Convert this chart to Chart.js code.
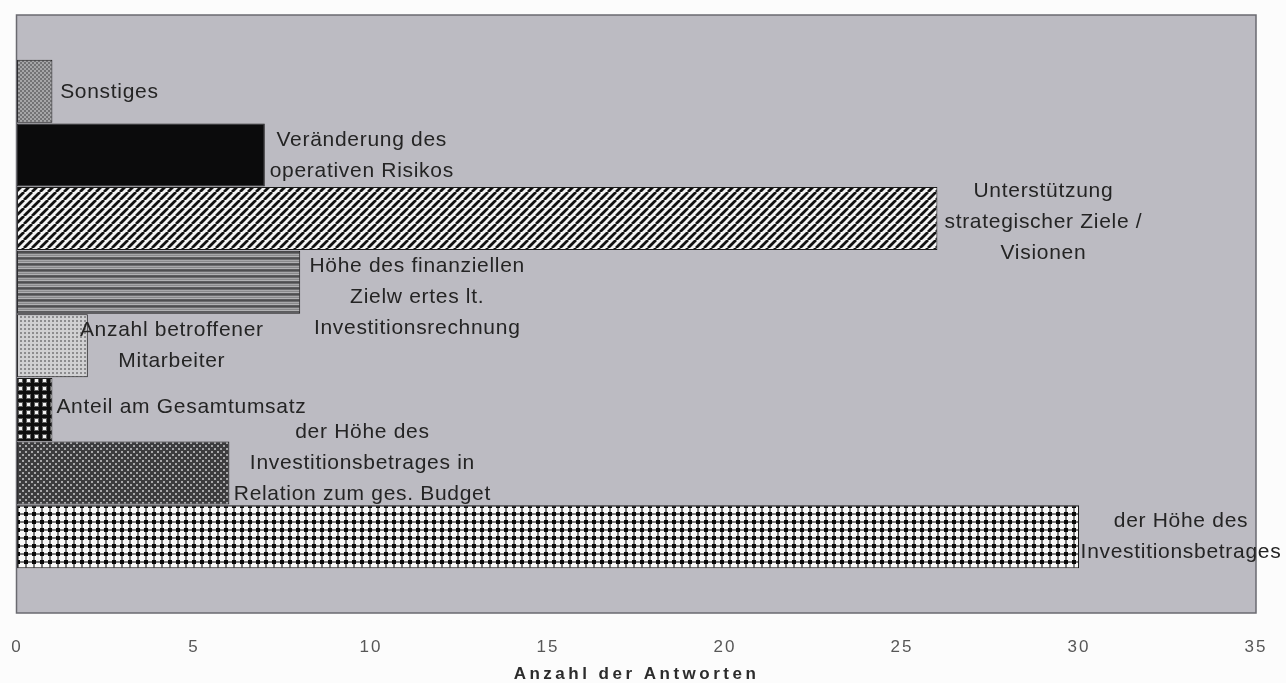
<!DOCTYPE html>
<html>
<head>
<meta charset="utf-8">
<title>Anzahl der Antworten</title>
<script src="https://cdn.jsdelivr.net/npm/chart.js@4.4.1/dist/chart.umd.min.js"></script>
<style>
  html, body { margin: 0; padding: 0; background: #fcfcfc; }
  canvas { display: block; }
</style>
</head>
<body>
<canvas id="chart" width="1286" height="683"></canvas>
<script>
// Criteria, listed top to bottom; each entry holds the label lines.
const categories = [
  ['Sonstiges'],
  ['Veränderung des', 'operativen Risikos'],
  ['Unterstützung', 'strategischer Ziele /', 'Visionen'],
  ['Höhe des finanziellen', 'Zielw ertes lt.', 'Investitionsrechnung'],
  ['Anzahl betroffener', 'Mitarbeiter'],
  ['Anteil am Gesamtumsatz'],
  ['der Höhe des', 'Investitionsbetrages in', 'Relation zum ges. Budget'],
  ['der Höhe des', 'Investitionsbetrages']
];
// Number of answers per criterion.
const answers = [1, 7, 26, 8, 2, 1, 6, 30];
// Value axis ticks.
const xTicks = [0, 5, 10, 15, 20, 25, 30, 35];
const axisTitle = 'Anzahl der Antworten';

const FONT = '"Liberation Sans", Arial, sans-serif';
const canvas = document.getElementById('chart');
const ctx = canvas.getContext('2d');

// Monochrome fill patterns, one per bar.
function tile(w, h, draw) {
  const c = document.createElement('canvas');
  c.width = w; c.height = h;
  draw(c.getContext('2d'), w, h);
  return ctx.createPattern(c, 'repeat');
}
const fills = [
  tile(4, 4, (g) => {            // grey speckle
    g.fillStyle = '#737375'; g.fillRect(0, 0, 4, 4);
    g.fillStyle = '#a6a6a8'; g.fillRect(0, 0, 2, 2); g.fillRect(2, 2, 2, 2);
  }),
  '#0b0b0c',                     // solid black
  tile(8, 8, (g) => {            // diagonal stripes
    g.fillStyle = '#f4f4f4'; g.fillRect(0, 0, 8, 8);
    g.strokeStyle = '#111'; g.lineWidth = 2.8;
    g.beginPath();
    for (let k = -8; k <= 8; k += 8) { g.moveTo(k, 8); g.lineTo(k + 8, 0); }
    g.stroke();
  }),
  tile(1, 6, (g) => {            // horizontal lines
    const rows = ['#4e4e50', '#6c6c6e', '#a8a8aa', '#8a8a8c', '#b2b2b4', '#5c5c5e'];
    rows.forEach((c, i) => { g.fillStyle = c; g.fillRect(0, i, 1, 1); });
  }),
  tile(4, 4, (g) => {            // light dots
    g.fillStyle = '#d0d0d2'; g.fillRect(0, 0, 4, 4);
    g.fillStyle = '#8c8c8e'; g.fillRect(0, 0, 2, 2);
  }),
  tile(8, 8, (g) => {            // white dots on black
    g.fillStyle = '#0e0e0e'; g.fillRect(0, 0, 8, 8);
    g.fillStyle = '#5e5e5e'; g.fillRect(2, 2, 5, 5);
    g.fillStyle = '#f2f2f2'; g.fillRect(3, 3, 3, 3);
  }),
  tile(6, 6, (g) => {            // dense dots on dark grey
    g.fillStyle = '#3c3c3e'; g.fillRect(0, 0, 6, 6);
    g.fillStyle = '#a8a8aa'; g.fillRect(1, 1, 2, 2); g.fillRect(4, 4, 2, 2);
  }),
  tile(8, 8, (g) => {            // black/white plaid
    g.fillStyle = '#f8f8f8'; g.fillRect(0, 0, 8, 8);
    g.fillStyle = '#7a7a7a'; g.fillRect(0, 1, 8, 2); g.fillRect(1, 0, 2, 8);
    g.fillStyle = '#0a0a0a'; g.fillRect(0, 0, 4, 4);
  })
];

// Grey plot area with a dark frame.
const plotFrame = {
  id: 'plotFrame',
  beforeDraw(chart, args, opts) {
    const { ctx: c, chartArea: a } = chart;
    c.save();
    c.fillStyle = opts.background;
    c.fillRect(a.left, a.top, a.width, a.height);
    c.restore();
    // spaced lettering for the tick labels
    c.letterSpacing = opts.tickSpacing;
  },
  afterDatasetsDraw(chart, args, opts) {
    const { ctx: c, chartArea: a } = chart;
    c.save();
    c.strokeStyle = opts.border;
    c.lineWidth = 1.5;
    c.strokeRect(a.left - 0.5, a.top, a.width + 0.5, a.height);
    c.restore();
  },
  afterDraw(chart) { chart.ctx.letterSpacing = '0px'; }
};

// Multi-line category labels placed beside each bar end.
const barLabels = {
  id: 'barLabels',
  afterDatasetsDraw(chart, args, opts) {
    const c = chart.ctx;
    const meta = chart.getDatasetMeta(0);
    c.save();
    c.font = opts.font;
    c.fillStyle = opts.color;
    c.letterSpacing = opts.letterSpacing;
    c.textAlign = 'center';
    c.textBaseline = 'middle';
    meta.data.forEach((bar, i) => {
      const lines = categories[i];
      const [dx, dy] = opts.offsets[i];
      const n = lines.length;
      lines.forEach((line, j) => {
        const y = bar.y + dy + (j - (n - 1) / 2) * opts.lineHeight;
        c.fillText(line, bar.x + dx, y);
      });
    });
    c.restore();
  }
};

// Value axis title under the tick labels.
const axisCaption = {
  id: 'axisCaption',
  afterDraw(chart, args, opts) {
    const { ctx: c, chartArea: a } = chart;
    c.save();
    c.font = opts.font;
    c.fillStyle = opts.color;
    c.letterSpacing = opts.letterSpacing;
    c.textAlign = 'center';
    c.textBaseline = 'middle';
    c.fillText(axisTitle, (a.left + a.right) / 2, opts.y);
    c.restore();
  }
};

new Chart(ctx, {
  type: 'bar',
  data: {
    datasets: [{
      data: answers.map((v, i) => ({ x: v, y: i })),
      backgroundColor: fills,
      borderColor: '#1a1a1a',
      borderWidth: 1,
      borderSkipped: false,
      barPercentage: 1,
      categoryPercentage: 0.99
    }]
  },
  options: {
    indexAxis: 'y',
    responsive: false,
    animation: false,
    events: [],
    devicePixelRatio: 1,
    layout: { padding: { left: 17, right: 30, top: 15, bottom: 0 } },
    scales: {
      x: {
        type: 'linear',
        min: xTicks[0],
        max: xTicks[xTicks.length - 1],
        bounds: 'data',
        grid: { display: false, drawTicks: false },
        border: { display: false },
        afterBuildTicks(scale) { scale.ticks = xTicks.map((v) => ({ value: v })); },
        ticks: {
          padding: 24,
          color: '#575757',
          font: { family: FONT, size: 17 }
        },
        afterFit(scale) {
          scale.height = 70;
          scale.paddingLeft = 0;
          scale.paddingRight = 0;
        }
      },
      y: {
        type: 'linear',
        reverse: true,
        bounds: 'data',
        offset: false,
        min: -1.2,
        max: categories.length + 0.2,
        display: false,
        afterBuildTicks(scale) { scale.ticks = categories.map((_, i) => ({ value: i })); }
      }
    },
    plugins: {
      legend: { display: false },
      tooltip: { enabled: false },
      plotFrame: { background: '#bcbbc2', border: '#6a6a70', tickSpacing: '2px' },
      barLabels: {
        font: '21px ' + FONT,
        color: '#242424',
        letterSpacing: '0.7px',
        lineHeight: 31,
        offsets: [[57, 1], [97, 1], [106, 4], [117, 15], [84, 0], [129, -2], [133, -10], [102, 0]]
      },
      axisCaption: {
        font: 'bold 17px ' + FONT,
        color: '#2c2c2c',
        letterSpacing: '3.5px',
        y: 674
      }
    }
  },
  plugins: [plotFrame, barLabels, axisCaption]
});
</script>
</body>
</html>
